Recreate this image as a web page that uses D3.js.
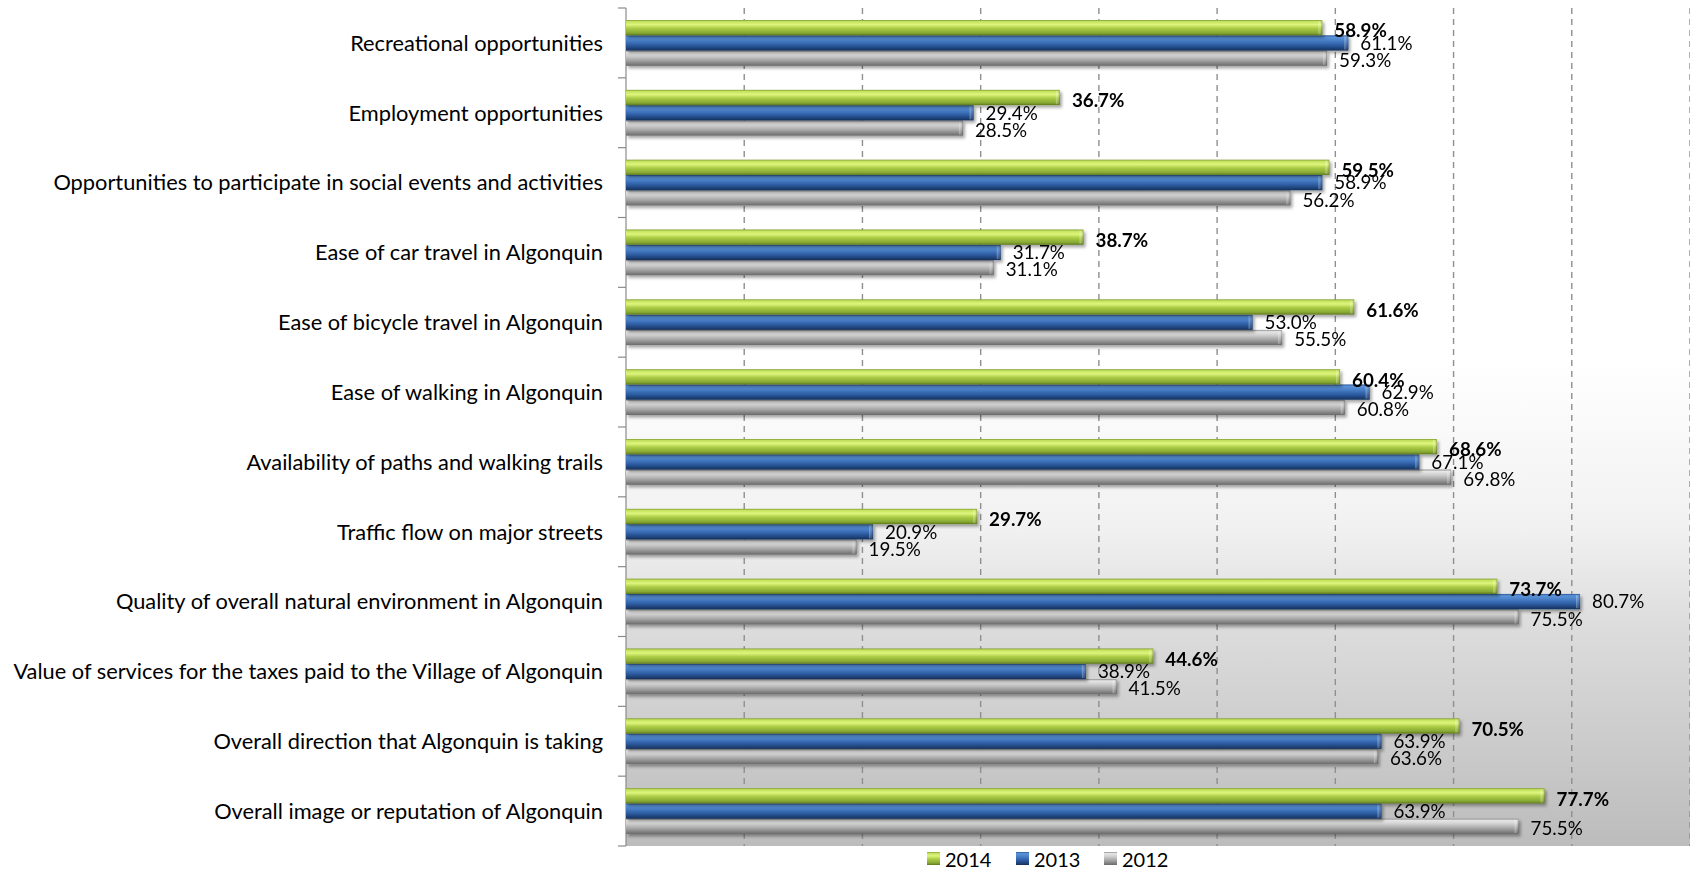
<!DOCTYPE html>
<html>
<head>
<meta charset="utf-8">
<script src="https://cdn.jsdelivr.net/npm/d3@7"></script>
<style>
  html, body { margin: 0; padding: 0; background: #ffffff; }
  svg { display: block; }
  text { font-family: Lato, "Open Sans", sans-serif; fill: #000; }
</style>
</head>
<body>
<svg id="chart" width="1690" height="871"></svg>
<script>
// Survey items, top to bottom
const categories = [
  "Recreational opportunities",
  "Employment opportunities",
  "Opportunities to participate in social events and activities",
  "Ease of car travel in Algonquin",
  "Ease of bicycle travel in Algonquin",
  "Ease of walking in Algonquin",
  "Availability of paths and walking trails",
  "Traffic flow on major streets",
  "Quality of overall natural environment in Algonquin",
  "Value of services for the taxes paid to the Village of Algonquin",
  "Overall direction that Algonquin is taking",
  "Overall image or reputation of Algonquin"
];

// Percent positive by survey year
const years = ["2014", "2013", "2012"];
const values2014 = [58.9, 36.7, 59.5, 38.7, 61.6, 60.4, 68.6, 29.7, 73.7, 44.6, 70.5, 77.7];
const values2013 = [61.1, 29.4, 58.9, 31.7, 53.0, 62.9, 67.1, 20.9, 80.7, 38.9, 63.9, 63.9];
const values2012 = [59.3, 28.5, 56.2, 31.1, 55.5, 60.8, 69.8, 19.5, 75.5, 41.5, 63.6, 75.5];
const gridTicks = [10, 20, 30, 40, 50, 60, 70, 80, 90];

const seriesValues = { "2014": values2014, "2013": values2013, "2012": values2012 };

const svg = d3.select("#chart");
const W = 1690, H = 871;
const margin = { top: 8, right: 0, bottom: 25, left: 626 };
const plotW = W - margin.left - margin.right;
const plotH = H - margin.top - margin.bottom;

const x = d3.scaleLinear().domain([0, 90]).range([0, plotW]);
const y = d3.scaleBand().domain(categories).range([0, plotH]).paddingInner(0.344).paddingOuter(0.172);
const ySub = d3.scaleBand().domain(years).range([0, y.bandwidth()]);

const defs = svg.append("defs");

// Plot area fill: white fading to grey towards the bottom
const bg = defs.append("linearGradient").attr("id", "plotBg")
  .attr("x1", 0).attr("y1", 0).attr("x2", 0).attr("y2", 1);
[[0, "#ffffff"], [0.42, "#ffffff"], [0.62, "#f1f1f1"], [0.74, "#dcdcdc"], [1, "#bcbcbc"]]
  .forEach(([o, c]) => bg.append("stop").attr("offset", o).attr("stop-color", c));

// Cylinder-style shading for each series
const shades = {
  "2014": [[0, "#7f9c2e"], [0.1, "#c4e25e"], [0.3, "#def57c"], [0.55, "#aacb45"], [0.85, "#87a833"], [1, "#5d781d"]],
  "2013": [[0, "#28579a"], [0.12, "#5b92d6"], [0.32, "#4b82ca"], [0.65, "#2d5ca2"], [1, "#15315c"]],
  "2012": [[0, "#8c8c8c"], [0.12, "#e6e6e6"], [0.32, "#d2d2d2"], [0.65, "#a3a3a3"], [1, "#6a6a6a"]]
};
years.forEach(yr => {
  const g = defs.append("linearGradient").attr("id", "bar" + yr)
    .attr("x1", 0).attr("y1", 0).attr("x2", 0).attr("y2", 1);
  shades[yr].forEach(([o, c]) => g.append("stop").attr("offset", o).attr("stop-color", c));
});

// Bevelled bar end
const cap = defs.append("linearGradient").attr("id", "capShade")
  .attr("x1", 0).attr("y1", 0).attr("x2", 1).attr("y2", 0);
[[0, "rgba(255,255,255,0.35)"], [0.5, "rgba(255,255,255,0.1)"], [1, "rgba(0,0,0,0.35)"]]
  .forEach(([o, c]) => cap.append("stop").attr("offset", o).attr("stop-color", c));

const shadow = defs.append("filter").attr("id", "barShadow")
  .attr("x", "-5%").attr("y", "-30%").attr("width", "110%").attr("height", "180%");
shadow.append("feDropShadow").attr("dx", 2).attr("dy", 2.5).attr("stdDeviation", 1.8)
  .attr("flood-color", "#000").attr("flood-opacity", 0.35);

const g = svg.append("g").attr("transform", `translate(${margin.left},${margin.top})`);

g.append("rect").attr("x", 0).attr("y", 0).attr("width", plotW).attr("height", plotH)
  .attr("fill", "url(#plotBg)");

// Dashed vertical gridlines
g.append("g").selectAll("line").data(gridTicks).join("line")
  .attr("x1", d => x(d)).attr("x2", d => x(d))
  .attr("y1", 0).attr("y2", plotH)
  .attr("stroke", "#8f8f8f").attr("stroke-width", 1.4)
  .attr("stroke-dasharray", "6,5");

// Category axis with ticks at band boundaries
const step = y.step();
const boundaries = d3.range(categories.length + 1).map(i => i * step);
g.append("line").attr("x1", 0).attr("x2", 0).attr("y1", 0).attr("y2", plotH)
  .attr("stroke", "#8a8a8a").attr("stroke-width", 1.2);
g.append("g").selectAll("line").data(boundaries).join("line")
  .attr("x1", -8).attr("x2", 0).attr("y1", d => d).attr("y2", d => d)
  .attr("stroke", "#8a8a8a").attr("stroke-width", 1.2);

const catSize = 21.8;
g.append("g").selectAll("text").data(categories).join("text")
  .attr("x", -23)
  .attr("y", d => y(d) + y.bandwidth() / 2 + catSize * 0.36)
  .attr("text-anchor", "end")
  .attr("font-size", catSize)
  .text(d => d);

// Bars
const rows = categories.map((c, i) => ({ c, i }));
const barG = g.append("g");
["2012", "2013", "2014"].forEach(yr => {
  const layer = barG.append("g").attr("filter", "url(#barShadow)");
  const sel = layer.selectAll("g").data(rows).join("g")
    .attr("transform", d => `translate(0,${y(d.c) + ySub(yr)})`);
  sel.append("rect")
    .attr("x", 0).attr("y", 0)
    .attr("width", d => x(seriesValues[yr][d.i]))
    .attr("height", ySub.bandwidth())
    .attr("fill", `url(#bar${yr})`);
  sel.append("rect")
    .attr("x", d => x(seriesValues[yr][d.i]) - 4).attr("y", 1)
    .attr("width", 4).attr("height", ySub.bandwidth() - 2)
    .attr("fill", "url(#capShade)");
});

// Value labels, slightly spread apart vertically so the three stay legible
const fmt = d3.format(".1f");
const labelSize = 18.8;
const labelNudge = { "2014": 3, "2013": 0, "2012": 2 };
years.forEach(yr => {
  g.append("g").selectAll("text").data(rows).join("text")
    .attr("x", d => x(seriesValues[yr][d.i]) + 12)
    .attr("y", d => y(d.c) + ySub(yr) + ySub.bandwidth() / 2 + labelSize * 0.36 + labelNudge[yr])
    .attr("font-size", labelSize)
    .attr("font-weight", yr === "2014" ? 700 : 400)
    .text(d => fmt(seriesValues[yr][d.i]) + "%");
});

// Legend
const legend = svg.append("g").attr("transform", "translate(927,852)");
const legendX = [0, 89, 177];
years.forEach((yr, i) => {
  const item = legend.append("g").attr("transform", `translate(${legendX[i]},0)`);
  item.append("rect").attr("width", 13).attr("height", 13).attr("fill", `url(#bar${yr})`);
  item.append("text").attr("x", 18).attr("y", 14.5).attr("font-size", 20).text(yr);
});
</script>
</body>
</html>
